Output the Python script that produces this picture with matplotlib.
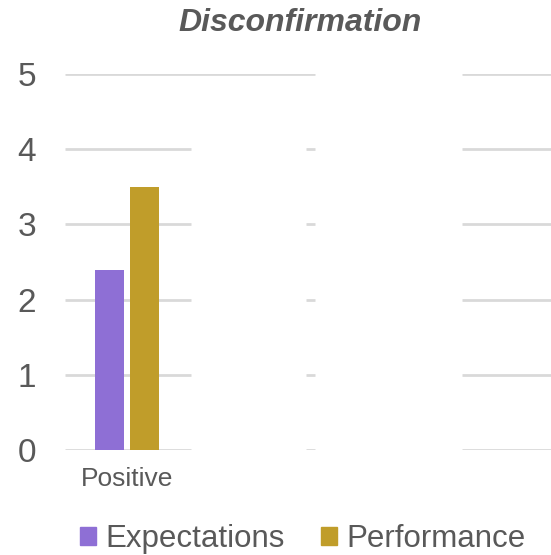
import matplotlib.pyplot as plt
import numpy as np
from matplotlib.patches import Patch

plt.rcParams["font.family"] = ["Liberation Sans", "DejaVu Sans"]

categories = ["Positive"]
expectations = [2.4]
performance = [3.5]
y_ticks = [0, 1, 2, 3, 4, 5]

# visible stretches of each gridline, in category units
grid_spans = [(-0.5, 0.516), (1.444, 1.516), (2.702, 3.42)]
top_grid_spans = [(-0.5, 1.516), (2.702, 3.42)]

purple = "#8E6FD5"
gold = "#C09D2A"
grid_color = "#D9D9D9"
text_color = "#595959"

fig = plt.figure(figsize=(5.51, 5.55), dpi=100)
ax = fig.add_axes([65 / 551, 105 / 555, 486 / 551, 376 / 555])

x = np.arange(len(categories))
bar_w = 0.23
ax.bar(x - 0.143, expectations, bar_w, color=purple, zorder=3)
ax.bar(x + 0.143, performance, bar_w, color=gold, zorder=3)

for yv in y_ticks:
    spans = top_grid_spans if yv == y_ticks[-1] else grid_spans
    for x0, x1 in spans:
        ax.plot([x0, x1], [yv, yv], color=grid_color, lw=2, zorder=1,
                solid_capstyle="butt")

ax.set_xlim(-0.5, 3.42)
ax.set_ylim(0, 5)
ax.set_yticks(y_ticks)
ax.set_xticks(x)
ax.set_xticklabels(categories)
ax.tick_params(axis="y", length=0, pad=21, labelsize=24, labelcolor=text_color)
ax.tick_params(axis="x", length=0, pad=12, labelsize=19, labelcolor=text_color)
for s in ax.spines.values():
    s.set_visible(False)

fig.text(300 / 551, 1 - 23 / 555, "Disconfirmation", ha="center", va="center",
         fontsize=23, fontweight="bold", fontstyle="italic", color=text_color)

handles = [Patch(color=purple, label="Expectations"),
           Patch(color=gold, label="Performance")]
fig.legend(handles=handles, loc="center", bbox_to_anchor=(303 / 551, 16 / 555),
           ncol=2, frameon=False, fontsize=22.5, labelcolor=text_color,
           handlelength=0.5, handleheight=0.5, handletextpad=0.32,
           columnspacing=1.15, borderpad=0, borderaxespad=0)

fig.savefig("out.png", dpi=100)
